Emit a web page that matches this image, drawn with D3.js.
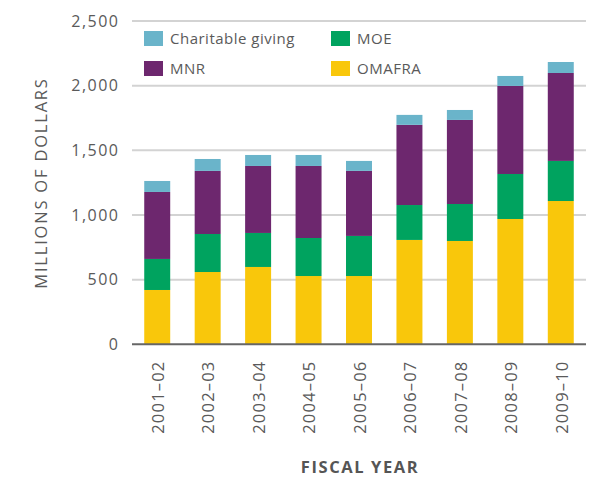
<!DOCTYPE html>
<html><head><meta charset="utf-8">
<script src="https://cdn.jsdelivr.net/npm/d3@7"></script>
<style>body{margin:0;background:#fff}</style>
</head><body>
<svg id="c" width="615" height="479"></svg>
<script>
const years = ["2001–02","2002–03","2003–04","2004–05","2005–06","2006–07","2007–08","2008–09","2009–10"];
const omafra = [420, 559, 598, 528, 528, 807, 799, 969, 1108];
const moe = [240, 294, 263, 294, 310, 270, 286, 348, 310];
const mnr = [518, 488, 518, 557, 503, 620, 650, 681, 680];
const charitable = [85, 92, 85, 85, 77, 77, 77, 77, 85];
const seriesNames = ["OMAFRA","MOE","MNR","Charitable giving"];
const colors = {"OMAFRA":"#f9c70b","MOE":"#00a35f","MNR":"#6d276e","Charitable giving":"#6ab4ca"};
const yTicks = [0, 500, 1000, 1500, 2000, 2500];

const rows = years.map((y,i)=>({year:y,"OMAFRA":omafra[i],"MOE":moe[i],"MNR":mnr[i],"Charitable giving":charitable[i]}));
const stacked = d3.stack().keys(seriesNames)(rows);

const svg = d3.select("#c");
const font = "'Open Sans', sans-serif";
const x = d3.scaleBand().domain(years).range([132,586]).paddingInner(0.485).paddingOuter(0.2425);
const y = d3.scaleLinear().domain([0,2500]).range([344.3,21]);

// gridlines
svg.append("g").selectAll("line").data(yTicks.filter(t=>t>0)).join("line")
  .attr("x1",132).attr("x2",586).attr("y1",d=>y(d)).attr("y2",d=>y(d))
  .attr("stroke","#d3d3d3").attr("stroke-width",2);

// y labels
svg.append("g").selectAll("text").data(yTicks).join("text")
  .attr("x",119.5).attr("y",d=>y(d)).attr("dy","0.35em").attr("text-anchor","end")
  .attr("font-family",font).attr("font-size",16).attr("letter-spacing","1.5px").attr("fill","#5a5a5a")
  .text(d=>d3.format(",")(d));

// bars
svg.append("g").selectAll("g").data(stacked).join("g")
  .attr("fill",d=>colors[d.key])
  .selectAll("rect").data(d=>d).join("rect")
  .attr("x",d=>x(d.data.year)).attr("width",x.bandwidth())
  .attr("y",d=>y(d[1])).attr("height",d=>y(d[0])-y(d[1]));

// baseline
svg.append("line").attr("x1",132).attr("x2",586).attr("y1",y(0)).attr("y2",y(0))
  .attr("stroke","#666").attr("stroke-width",2);

// x labels
svg.append("g").selectAll("text").data(years).join("text")
  .attr("transform",d=>`translate(${x(d)+x.bandwidth()/2+1},360.5) rotate(-90)`)
  .attr("text-anchor","end").attr("dy","0.35em")
  .attr("font-family",font).attr("font-size",16.5).attr("letter-spacing","1.2px").attr("fill","#5a5a5a")
  .text(d=>d);

// axis titles
svg.append("text").attr("transform","translate(47,183) rotate(-90)")
  .attr("text-anchor","middle").attr("font-family",font).attr("font-size",16.5).attr("letter-spacing","1.8px").attr("fill","#5a5a5a")
  .text("MILLIONS OF DOLLARS");
svg.append("text").attr("x",360).attr("y",473).attr("text-anchor","middle")
  .attr("font-family",font).attr("font-size",16.5).attr("font-weight","bold").attr("letter-spacing","1.6px").attr("fill","#555")
  .text("FISCAL YEAR");

// legend
const legendItems = [
  {name:"Charitable giving", lx:144, ly:31},
  {name:"MOE", lx:331, ly:31},
  {name:"MNR", lx:144, ly:61},
  {name:"OMAFRA", lx:331, ly:61}
];
const lg = svg.append("g").selectAll("g").data(legendItems).join("g")
  .attr("transform",d=>`translate(${d.lx},${d.ly})`);
lg.append("rect").attr("width",19).attr("height",15).attr("fill",d=>colors[d.name]);
lg.append("text").attr("x",26).attr("y",8).attr("dy","0.35em")
  .attr("font-family",font).attr("font-size",15).attr("letter-spacing","0.5px").attr("fill","#5a5a5a").text(d=>d.name);
</script>
</body></html>
